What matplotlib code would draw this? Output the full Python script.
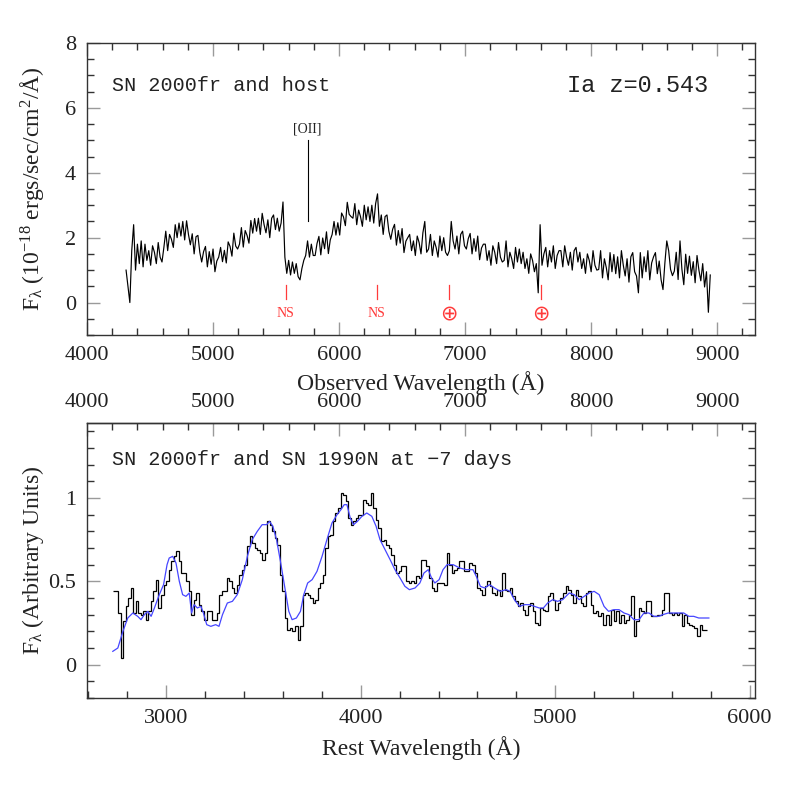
import numpy as np
import matplotlib
matplotlib.use("Agg")
import matplotlib.pyplot as plt
from matplotlib.ticker import MultipleLocator, FixedLocator, FuncFormatter

plt.rcParams["font.family"] = ["Liberation Serif", "DejaVu Serif"]
plt.rcParams["mathtext.fontset"] = "custom"
plt.rcParams["mathtext.rm"] = "Liberation Serif"
plt.rcParams["mathtext.it"] = "Liberation Serif"

redshift = 0.543

# observed spectrum of SN 2000fr + host, 15 A sampling starting at 4310 A
obs_start = 4310.0
obs_step = 15.0
obs_flux = [
    1.0, 0.5, 0.0, 1.6, 2.4, 1.0, 1.8, 1.2, 1.9, 1.1,
    1.8, 1.3, 1.6, 1.15, 1.75, 1.55, 1.2, 1.85, 1.4, 1.25,
    1.7, 2.2, 1.6, 2.1, 1.95, 1.7, 2.4, 2.0, 2.45, 2.05,
    2.5, 1.93, 2.52, 2.1, 1.78, 2.12, 1.5, 2.03, 2.07, 1.55,
    1.25, 1.57, 1.73, 1.1, 1.57, 1.18, 1.65, 0.95, 1.28, 1.4,
    1.7, 1.26, 1.61, 1.22, 1.87, 1.73, 1.43, 2.14, 1.74, 1.65,
    1.8, 2.31, 1.71, 2.22, 2.07, 1.83, 2.53, 2.14, 2.59, 2.2,
    2.6, 2.1, 2.75, 2.4, 2.15, 2.55, 2.0, 2.6, 2.7, 2.25,
    2.6, 2.2, 2.45, 3.1, 1.4, 0.9, 1.3, 0.85, 1.25, 0.9,
    1.2, 0.8, 0.7, 1.05, 1.3, 1.45, 1.9, 1.4, 1.8, 1.45,
    1.45, 1.82, 2.04, 1.47, 1.99, 1.66, 2.18, 1.51, 1.93, 2.1,
    2.5, 2.08, 2.46, 2.08, 2.76, 2.64, 2.37, 3.09, 2.72, 2.65,
    2.6, 3.05, 2.4, 2.85, 2.65, 2.35, 3.0, 2.55, 2.95, 2.5,
    3.0, 2.45, 3.05, 3.35, 2.35, 2.7, 2.1, 2.65, 2.7, 2.2,
    1.95, 2.26, 2.41, 1.77, 2.22, 1.83, 2.28, 1.54, 1.89, 2.0,
    2.1, 1.6, 1.9, 1.45, 2.05, 1.85, 1.5, 2.15, 2.5, 1.55,
    1.65, 2.1, 1.45, 1.9, 1.7, 1.4, 2.05, 1.6, 2.0, 1.55,
    1.45, 1.6, 2.5, 1.9, 1.65, 2.05, 1.5, 2.1, 2.2, 1.75,
    1.65, 1.97, 2.13, 1.5, 1.97, 1.58, 2.05, 1.32, 1.68, 1.8,
    1.8, 1.3, 1.6, 1.15, 1.75, 1.55, 1.2, 1.85, 1.4, 1.25,
    1.3, 1.9, 1.1, 1.55, 1.35, 1.05, 1.7, 1.25, 1.65, 1.2,
    1.55, 1.05, 1.35, 0.9, 1.5, 1.3, 0.95, 1.2, 0.3, 2.4,
    1.15, 1.5, 1.7, 1.1, 1.6, 1.25, 1.75, 1.05, 1.45, 1.6,
    1.6, 1.1, 1.75, 1.4, 1.15, 1.55, 1.0, 1.6, 1.7, 1.25,
    1.55, 1.05, 1.35, 0.9, 1.5, 1.3, 0.95, 1.6, 1.15, 1.0,
    1.02, 1.6, 0.76, 1.35, 1.08, 0.7, 1.54, 0.95, 1.48, 0.89,
    1.41, 0.76, 1.6, 1.15, 0.82, 1.35, 0.63, 1.41, 1.54, 0.95,
    0.82, 0.3, 1.54, 0.76, 1.41, 0.95, 1.6, 0.7, 1.22, 1.41,
    1.54, 0.89, 1.28, 0.7, 0.4, 1.22, 1.9, 1.6, 1.02, 0.83,
    0.97, 1.55, 0.71, 1.9, 1.03, 0.55, 1.49, 0.9, 1.43, 0.84,
    1.26, 0.61, 1.45, 1.0, 0.67, 1.2, 0.48, 0.95, -0.3, 0.85,
]

# rest-frame binned SN 2000fr spectrum, 13 A bins starting at 2726 A
rest_start = 2726.0
rest_step = 13.0
rest_flux = [
    0.44, 0.44, 0.31, 0.04, 0.26, 0.35, 0.40, 0.46, 0.31, 0.38,
    0.31, 0.30, 0.32, 0.27, 0.32, 0.38, 0.44, 0.51, 0.34, 0.42,
    0.48, 0.50, 0.57, 0.62, 0.65, 0.68, 0.62, 0.55, 0.55, 0.50,
    0.44, 0.30, 0.39, 0.43, 0.36, 0.32, 0.27, 0.32, 0.32, 0.27,
    0.27, 0.31, 0.42, 0.44, 0.44, 0.52, 0.50, 0.46, 0.43, 0.48,
    0.54, 0.57, 0.60, 0.71, 0.77, 0.73, 0.70, 0.69, 0.67, 0.63,
    0.67, 0.86, 0.84, 0.80, 0.76, 0.72, 0.54, 0.44, 0.28, 0.21,
    0.22, 0.20, 0.23, 0.15, 0.23, 0.42, 0.43, 0.42, 0.40, 0.37,
    0.39, 0.46, 0.49, 0.54, 0.70, 0.77, 0.78, 0.86, 0.91, 0.94,
    1.03, 1.02, 0.98, 0.88, 0.84, 0.86, 0.88, 0.90, 0.90, 0.99,
    0.97, 0.96, 1.03, 0.94, 0.87, 0.82, 0.74, 0.75, 0.72, 0.70,
    0.66, 0.60, 0.55, 0.56, 0.59, 0.59, 0.50, 0.49, 0.50, 0.49,
    0.53, 0.52, 0.63, 0.63, 0.59, 0.52, 0.46, 0.44, 0.49, 0.49,
    0.49, 0.48, 0.67, 0.60, 0.55, 0.57, 0.58, 0.62, 0.62, 0.56,
    0.56, 0.61, 0.60, 0.55, 0.46, 0.45, 0.42, 0.47, 0.50, 0.47,
    0.43, 0.42, 0.45, 0.41, 0.55, 0.45, 0.44, 0.46, 0.41, 0.38,
    0.35, 0.37, 0.33, 0.30, 0.35, 0.37, 0.32, 0.25, 0.24, 0.34,
    0.33, 0.32, 0.41, 0.43, 0.39, 0.33, 0.37, 0.40, 0.43, 0.47,
    0.45, 0.42, 0.37, 0.45, 0.41, 0.37, 0.35, 0.43, 0.44, 0.36,
    0.31, 0.32, 0.29, 0.31, 0.24, 0.30, 0.24, 0.33, 0.26, 0.32,
    0.25, 0.30, 0.25, 0.27, 0.30, 0.41, 0.17, 0.26, 0.34, 0.32,
    0.31, 0.38, 0.38, 0.29, 0.29, 0.30, 0.30, 0.33, 0.43, 0.43,
    0.31, 0.30, 0.31, 0.30, 0.31, 0.23, 0.30, 0.25, 0.24, 0.23,
    0.22, 0.17, 0.24, 0.21, 0.21,
]

# SN 1990N template at -7 days
tmpl_wave = [
    2725, 2751, 2777, 2802, 2828, 2853, 2870, 2887, 2905, 2922,
    2939, 2964, 2986, 3004, 3015, 3033, 3050, 3067, 3084, 3101,
    3118, 3130, 3143, 3160, 3178, 3191, 3208, 3229, 3254, 3271,
    3289, 3314, 3340, 3365, 3391, 3417, 3442, 3468, 3493, 3516,
    3531, 3548, 3567, 3587, 3613, 3630, 3647, 3669, 3690, 3707,
    3727, 3750, 3775, 3801, 3826, 3852, 3878, 3898, 3915, 3929,
    3946, 3963, 3983, 4006, 4031, 4057, 4079, 4099, 4125, 4151,
    4176, 4202, 4227, 4250, 4279, 4304, 4325, 4347, 4364, 4381,
    4403, 4423, 4444, 4475, 4509, 4543, 4577, 4594, 4615, 4637,
    4662, 4688, 4717, 4748, 4768, 4790, 4816, 4842, 4867, 4893,
    4918, 4939, 4961, 4987, 5012, 5038, 5072, 5098, 5123, 5149,
    5175, 5200, 5226, 5251, 5274, 5302, 5328, 5354, 5379, 5405,
    5431, 5456, 5482, 5507, 5533, 5553, 5581, 5610, 5635, 5661,
    5687, 5712, 5738, 5769, 5790,
]
tmpl_flux = [
    0.08, 0.10, 0.20, 0.28, 0.31, 0.29, 0.27, 0.30, 0.32, 0.29,
    0.34, 0.42, 0.48, 0.60, 0.64, 0.65, 0.61, 0.50, 0.42, 0.41,
    0.43, 0.31, 0.36, 0.34, 0.35, 0.31, 0.24, 0.23, 0.24, 0.23,
    0.30, 0.37, 0.38, 0.42, 0.51, 0.65, 0.75, 0.80, 0.84, 0.84,
    0.86, 0.83, 0.75, 0.62, 0.44, 0.32, 0.27, 0.28, 0.32, 0.42,
    0.49, 0.51, 0.56, 0.65, 0.75, 0.85, 0.90, 0.93, 0.96, 0.96,
    0.88, 0.84, 0.86, 0.89, 0.91, 0.89, 0.83, 0.75, 0.69, 0.63,
    0.57, 0.52, 0.47, 0.45, 0.46, 0.49, 0.55, 0.57, 0.52, 0.49,
    0.51, 0.57, 0.60, 0.60, 0.58, 0.57, 0.57, 0.53, 0.47, 0.46,
    0.48, 0.46, 0.44, 0.45, 0.44, 0.39, 0.35, 0.36, 0.36, 0.35,
    0.34, 0.34, 0.37, 0.39, 0.38, 0.39, 0.43, 0.42, 0.39, 0.41,
    0.43, 0.44, 0.42, 0.35, 0.32, 0.33, 0.33, 0.31, 0.30, 0.27,
    0.27, 0.31, 0.31, 0.29, 0.29, 0.30, 0.31, 0.31, 0.31, 0.31,
    0.29, 0.29, 0.28, 0.28, 0.28,
]

# line identifications in the observed frame
oii_wave = 5750
ns_waves = [5577, 6300]
telluric_waves = [6870, 7600]
obs_ticks = [4000, 5000, 6000, 7000, 8000, 9000]

TXT = "#222222"
RED = "#ff3b3b"
MAJ = "#9a9a9a"


def style_axis(ax, xmin_step, ymaj, ymin):
    ax.xaxis.set_major_locator(MultipleLocator(1000))
    ax.xaxis.set_minor_locator(MultipleLocator(xmin_step))
    ax.yaxis.set_major_locator(MultipleLocator(ymaj))
    ax.yaxis.set_minor_locator(MultipleLocator(ymin))
    ax.tick_params(which="both", direction="in", right=True, labelsize=16,
                   colors=TXT, pad=8, width=1.0)
    ax.tick_params(which="major", length=9.5, color=MAJ)
    ax.tick_params(which="minor", length=4.8, color="#333333")
    for s in ax.spines.values():
        s.set_linewidth(1.0)
        s.set_color("#333333")


fig = plt.figure(figsize=(7.97, 7.97), dpi=100)
W = 797.0

# top panel: observed frame
ax1 = fig.add_axes([87 / W, 1 - 335 / W, 668 / W, 292 / W])
obs_wave = obs_start + obs_step * np.arange(len(obs_flux))
ax1.plot(obs_wave, obs_flux, color="k", lw=0.85)
ax1.set_xlim(4000, 9300)
ax1.set_ylim(-1, 8)
style_axis(ax1, 200, 2, 0.5)
ax1.tick_params(which="both", top=True)

ax1.plot([oii_wave, oii_wave], [2.5, 5.0], color="k", lw=0.8)
ax1.text(oii_wave, 5.35, "[OII]", ha="center", va="center", fontsize=10,
         color=TXT)
for w in ns_waves:
    ax1.plot([w, w], [0.1, 0.55], color=RED, lw=0.9)
    ax1.text(w, -0.35, "NS", ha="center", va="center", fontsize=10, color=RED)
for w in telluric_waves:
    ax1.plot([w, w], [0.1, 0.55], color=RED, lw=0.9)
    ax1.text(w, -0.33, "\u2295", ha="center", va="center", fontsize=15,
             color=RED, family="DejaVu Sans")

ax1.text(4200, 6.7, "SN 2000fr and host", ha="left", va="center",
         fontsize=14.5, color=TXT, family="Liberation Mono")
ax1.text(8930, 6.7, "Ia z=0.543", ha="right", va="center", fontsize=17,
         color=TXT, family="Liberation Mono")

ax1.set_xlabel("Observed Wavelength (Å)", fontsize=17, color=TXT,
               labelpad=4)
ax1.set_ylabel(r"F$_{\lambda}$ (10$^{-18}$ ergs/sec/cm$^{2}$/Å)",
               fontsize=17, color=TXT)
ax1.yaxis.set_label_coords(-0.062, 0.5)

# bottom panel: rest frame
ax2 = fig.add_axes([87 / W, 1 - 698 / W, 668 / W, 275 / W])
edges = rest_start + rest_step * np.arange(len(rest_flux) + 1)
ax2.stairs(rest_flux, edges, color="k", lw=0.9, baseline=None)
ax2.plot(tmpl_wave, tmpl_flux, color="#4646ff", lw=0.9)
ax2.set_xlim(4000 / (1 + redshift), 9300 / (1 + redshift))
ax2.set_ylim(-0.2, 1.45)
style_axis(ax2, 200, 0.5, 0.1)
ax2.tick_params(which="both", top=False)
ax2.yaxis.set_major_formatter(FuncFormatter(lambda v, p: f"{v:g}"))

sec = ax2.secondary_xaxis("top", functions=(lambda r: r * (1 + redshift),
                                            lambda o: o / (1 + redshift)))
sec.xaxis.set_major_locator(FixedLocator(obs_ticks))
sec.xaxis.set_minor_locator(FixedLocator(np.arange(4200, 9300, 200)))
sec.tick_params(which="both", direction="in", labelsize=16, colors=TXT,
                pad=8, width=1.0)
sec.tick_params(which="major", length=9.5, color=MAJ)
sec.tick_params(which="minor", length=4.8, color="#333333")
sec.spines["top"].set_linewidth(1.0)
sec.spines["top"].set_color("#333333")

ax2.text(2721, 1.23, "SN 2000fr and SN 1990N at \u22127 days", ha="left",
         va="center", fontsize=14.5, color=TXT, family="Liberation Mono")

ax2.set_xlabel("Rest Wavelength (Å)", fontsize=17, color=TXT, labelpad=6)
ax2.set_ylabel(r"F$_{\lambda}$ (Arbitrary Units)", fontsize=17, color=TXT)
ax2.yaxis.set_label_coords(-0.062, 0.5)

fig.savefig("out.png", dpi=100)
